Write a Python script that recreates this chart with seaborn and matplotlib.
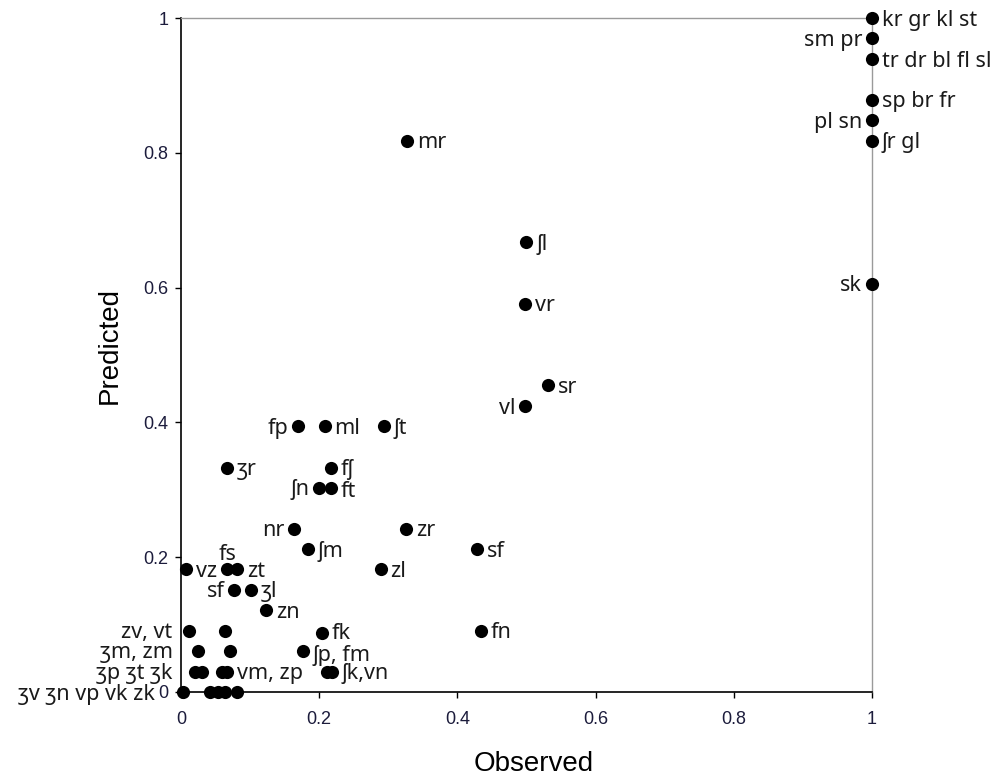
import numpy as np
import pandas as pd
import matplotlib
matplotlib.use("Agg")
import matplotlib.pyplot as plt
import seaborn as sns

# ============================================================
# Data (observed vs predicted proportions per cluster)
# ============================================================

observed = [
    1.0, 1.0, 1.0, 1.0, 1.0, 1.0, 1.0,
    0.327, 0.500, 0.498, 0.531, 0.498,
    0.169, 0.208, 0.294,
    0.067, 0.217, 0.200, 0.217,
    0.164, 0.326, 0.184, 0.428, 0.289,
    0.007, 0.067, 0.081, 0.077, 0.101, 0.123,
    0.204, 0.434, 0.012, 0.064,
    0.025, 0.071, 0.177,
    0.020, 0.030, 0.059, 0.067, 0.211, 0.218,
    0.003, 0.042, 0.054, 0.064, 0.081,
]

predicted = [
    1.0, 0.970, 0.939, 0.879, 0.848, 0.818, 0.606,
    0.818, 0.667, 0.576, 0.455, 0.424,
    0.394, 0.394, 0.394,
    0.333, 0.333, 0.303, 0.303,
    0.242, 0.242, 0.212, 0.212, 0.182,
    0.182, 0.182, 0.182, 0.152, 0.152, 0.121,
    0.087, 0.091, 0.091, 0.091,
    0.061, 0.061, 0.061,
    0.030, 0.030, 0.030, 0.030, 0.030, 0.030,
    0.0, 0.0, 0.0, 0.0, 0.0,
]

# label text and the index of the point it belongs to
label_text = [
    "kr gr kl st", "sm pr", "tr dr bl fl sl", "sp br fr", "pl sn", "ʃr gl", "sk",
    "mr", "ʃl", "vr", "sr", "vl",
    "fp", "ml", "ʃt",
    "ʒr", "fʃ", "ʃn", "ft",
    "nr", "zr", "ʃm", "sf", "zl",
    "vz", "fs", "zt", "sf", "ʒl", "zn",
    "fk", "fn", "zv, vt",
    "ʒm, zm", "ʃp, fm",
    "ʒp ʒt ʒk", "vm, zp", "ʃk,vn",
    "ʒv ʒn vp vk zk",
]
label_point = [
    0, 1, 2, 3, 4, 5, 6,
    7, 8, 9, 10, 11,
    12, 13, 14,
    15, 16, 17, 18,
    19, 20, 21, 22, 23,
    24, 25, 26, 27, 28, 29,
    30, 31, 32,
    34, 36,
    37, 40, 42,
    43,
]
label_side = [
    "r", "l", "r", "r", "l", "r", "l",
    "r", "r", "r", "r", "l",
    "l", "r", "r",
    "r", "r", "l", "r_low",
    "l", "r", "r", "r", "r",
    "r", "above", "r", "l", "r", "r",
    "r_high", "r", "axis",
    "axis", "r_low",
    "axis", "r", "r",
    "axis_far",
]

ticks = [0, 0.2, 0.4, 0.6, 0.8, 1.0]
tick_labels = ["0", "0.2", "0.4", "0.6", "0.8", "1"]

df = pd.DataFrame({"Observed": observed, "Predicted": predicted})

# ============================================================
# Style
# ============================================================

sns.set_theme(style="white")
plt.rcParams["font.family"] = ["Noto Sans", "DejaVu Sans"]

fig, ax = plt.subplots(figsize=(9.97, 7.77), dpi=100)
fig.subplots_adjust(left=0.1815, right=0.8746, bottom=0.1094, top=0.9768)

sns.scatterplot(
    data=df,
    x="Observed",
    y="Predicted",
    color="black",
    s=90,
    linewidth=0,
    clip_on=False,
    zorder=3,
    ax=ax,
)

ax.set_xlim(0, 1)
ax.set_ylim(0, 1)

# ============================================================
# Point labels
# ============================================================

label_color = "#1a1a1a"
offsets = {
    "r": ((7, -1.5), "left"),
    "r_low": ((7, -3), "left"),
    "r_high": ((7, 0), "left"),
    "l": ((-7, -1.5), "right"),
    "above": ((0, 11), "center"),
}

for text, idx, side in zip(label_text, label_point, label_side):
    if side in ("axis", "axis_far"):
        dx = -6 if side == "axis" else -19
        ax.annotate(
            text,
            xy=(0, predicted[idx]),
            xycoords=("axes fraction", "data"),
            xytext=(dx, -1.5),
            textcoords="offset points",
            ha="right",
            va="center",
            fontsize=15.5,
            color=label_color,
            annotation_clip=False,
        )
    else:
        (dx, dy), ha = offsets[side]
        ax.annotate(
            text,
            xy=(observed[idx], predicted[idx]),
            xytext=(dx, dy),
            textcoords="offset points",
            ha=ha,
            va="center",
            fontsize=15.5,
            color=label_color,
            annotation_clip=False,
        )

# ============================================================
# Axes
# ============================================================

ax.set_xticks(ticks)
ax.set_xticklabels(tick_labels, family=["Liberation Sans Narrow", "Liberation Sans"],
                   fontsize=13, color="#1c1c3c")
ax.set_yticks(ticks)
ax.set_yticklabels(tick_labels, family=["Liberation Sans", "DejaVu Sans"],
                   fontsize=13, color="#1c1c3c")

ax.tick_params(axis="x", direction="out", length=4, width=1, color="black",
               pad=10, bottom=True, top=False)
ax.tick_params(axis="y", direction="out", length=4, width=1, color="black",
               pad=5, left=True, right=False)

for side in ("left", "bottom"):
    ax.spines[side].set_color("black")
    ax.spines[side].set_linewidth(1.2)
for side in ("top", "right"):
    ax.spines[side].set_color("#9a9a9a")
    ax.spines[side].set_linewidth(1.0)

ax.set_xlabel("Observed", fontsize=20, family=["Liberation Sans", "DejaVu Sans"], color="black")
ax.set_ylabel("Predicted", fontsize=20, family=["Liberation Sans", "DejaVu Sans"], color="black")
ax.xaxis.set_label_coords(0.511, -0.087)
ax.yaxis.set_label_coords(-0.084, 0.514)

plt.savefig("out.png", dpi=100)
